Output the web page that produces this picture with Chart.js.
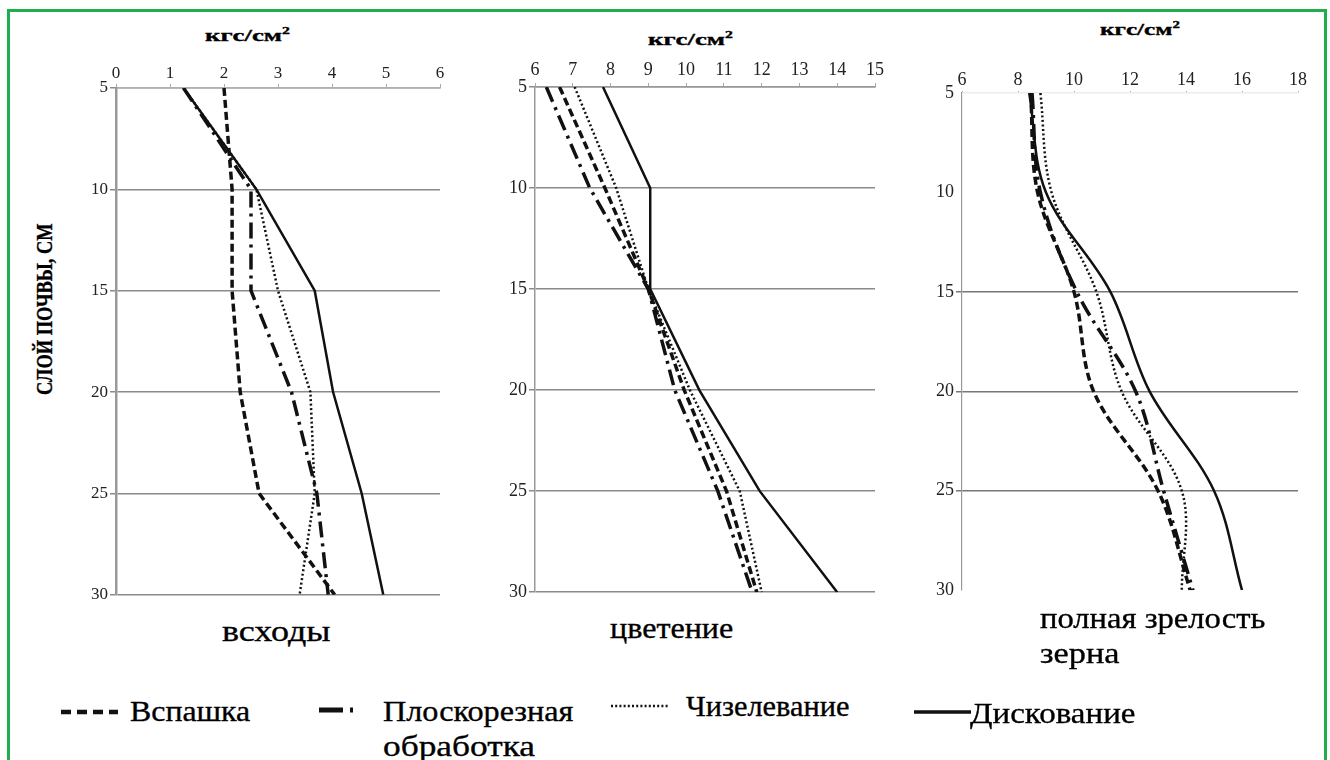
<!DOCTYPE html>
<html>
<head>
<meta charset="utf-8">
<script src="https://cdn.jsdelivr.net/npm/chart.js@4.4.1/dist/chart.umd.min.js"></script>
<style>
  body { margin: 0; width: 1330px; height: 760px; overflow: hidden; position: relative; background: #fff;
         font-family: "Liberation Serif", "DejaVu Serif", serif; color: #000; }
  .frame { position: absolute; left: 7px; top: 9px; width: 1314px; height: 780px; border: 3px solid #20ad4c; }
  canvas { position: absolute; }
  .txt { position: absolute; white-space: nowrap; line-height: 1; transform-origin: 0 0; -webkit-text-stroke: 0.35px #000; }
</style>
</head>
<body>
<div class="frame"></div>

<canvas id="c1" width="368" height="549" style="left:86px;top:58px"></canvas>
<canvas id="c2" width="384" height="548" style="left:505px;top:57px"></canvas>
<canvas id="c3" width="380" height="540" style="left:932px;top:63px"></canvas>

<!-- axis titles -->
<div class="txt" data-w="85" style="left:205px;top:26px;font-size:17px;font-weight:bold">кгс/см<sup style="font-size:10px">2</sup></div>
<div class="txt" data-w="85" style="left:648px;top:30px;font-size:17px;font-weight:bold">кгс/см<sup style="font-size:10px">2</sup></div>
<div class="txt" data-w="80" style="left:1100px;top:20px;font-size:17px;font-weight:bold">кгс/см<sup style="font-size:10px">2</sup></div>
<div class="txt" id="ytitle" data-w="172" style="left:33px;top:395px;font-size:23px;font-weight:bold">СЛОЙ ПОЧВЫ, СМ</div>

<!-- chart names -->
<div class="txt" data-w="108" style="left:222px;top:616px;font-size:30px">всходы</div>
<div class="txt" data-w="123" style="left:610px;top:613px;font-size:30px">цветение</div>
<div class="txt" data-w="225" style="left:1040px;top:603px;font-size:30px">полная зрелость</div>
<div class="txt" data-w="80" style="left:1040px;top:638px;font-size:30px">зерна</div>

<!-- legend -->
<canvas id="lg0" width="64" height="20" style="left:58px;top:702px"></canvas>
<canvas id="lg1" width="64" height="20" style="left:316px;top:700px"></canvas>
<canvas id="lg2" width="64" height="20" style="left:608px;top:696px"></canvas>
<canvas id="lg3" width="64" height="20" style="left:911px;top:702px"></canvas>
<div class="txt" data-w="120" style="left:130px;top:696px;font-size:30px">Вспашка</div>
<div class="txt" data-w="190" style="left:383px;top:696px;font-size:30px">Плоскорезная</div>
<div class="txt" data-w="152" style="left:383px;top:731px;font-size:30px">обработка</div>
<div class="txt" data-w="164" style="left:686px;top:691px;font-size:30px">Чизелевание</div>
<div class="txt" data-w="165" style="left:970px;top:698px;font-size:30px">Дискование</div>

<script>
// soil layer depth, cm
const depths = [5, 10, 15, 20, 25, 30];
const seriesNames = ['Вспашка', 'Плоскорезная обработка', 'Чизелевание', 'Дискование'];

// всходы, кгс/см2
const sprouts = {
    vspashka:  [2.0, 2.15, 2.15, 2.3, 2.65, 4.05],
    ploskorez: [1.25, 2.5, 2.5, 3.25, 3.72, 3.93],
    chizel:    [1.25, 2.6, 3.0, 3.6, 3.68, 3.4],
    disk:      [1.25, 2.6, 3.68, 4.02, 4.55, 4.95]
};
// цветение
const flowering = {
    vspashka:  [6.65, 7.85, 9.0, 9.95, 11.07, 11.87],
    ploskorez: [6.3, 7.45, 9.0, 9.7, 10.84, 11.75],
    chizel:    [7.05, 8.15, 9.0, 10.1, 11.42, 12.0],
    disk:      [7.8, 9.05, 9.05, 10.35, 11.95, 14.0]
};
// полная зрелость зерна
const ripeness = {
    vspashka:  [8.45, 8.7, 10.0, 10.7, 13.0, 14.15],
    ploskorez: [8.5, 8.8, 10.1, 12.2, 13.2, 14.25],
    chizel:    [8.8, 9.2, 10.8, 11.7, 13.85, 13.85],
    disk:      [8.4, 9.0, 11.3, 12.7, 15.0, 16.0]
};

const lineStyles = [
    { borderDash: [8, 4], borderWidth: 3.5 },
    { borderDash: [16, 6, 3, 6], borderWidth: 3.5 },
    { borderDash: [2, 2.5], borderWidth: 2.5 },
    { borderDash: [], borderWidth: 2.5 }
];
// the legend keys are drawn a bit coarser than the lines
const legendStyles = [
    { dash: [10, 6], width: 4.5 },
    { dash: [24, 7, 3, 30], width: 5 },
    { dash: [2, 2.2], width: 2.5 },
    { dash: [], width: 3.5 }
];

const serif = '"Liberation Serif", "DejaVu Serif", serif';

function buildDatasets(group, tension) {
    var keys = ['vspashka', 'ploskorez', 'chizel', 'disk'];
    return keys.map(function(k, i) {
        return {
            label: seriesNames[i],
            data: depths.map((d, j) => ({ x: group[k][j], y: d })),
            borderColor: '#111',
            borderWidth: lineStyles[i].borderWidth,
            borderDash: lineStyles[i].borderDash,
            pointRadius: 0,
            tension: tension,
            fill: false
        };
    });
}

function createChart(id, group, xMin, xMax, xStep, opts) {
    var ctx = document.getElementById(id).getContext('2d');
    const config = {
        type: 'line',
        data: { datasets: buildDatasets(group, opts.tension) },
        options: {
            indexAxis: 'y',
            responsive: false,
            animation: false,
            layout: { padding: { right: 14, bottom: 10 } },
            scales: {
                x: {
                    type: 'linear',
                    position: 'top',
                    min: xMin,
                    max: xMax,
                    ticks: { stepSize: xStep, color: '#222', padding: opts.xPad, font: { family: serif, size: opts.fontSize } },
                    grid: { drawOnChartArea: false, tickLength: opts.xTick, color: '#aaa' },
                    border: { color: opts.xBorder, width: 1.5 },
                    afterFit: function(s) { s.height = 30; }
                },
                y: {
                    type: 'linear',
                    reverse: true,
                    min: 5,
                    max: 30,
                    ticks: { stepSize: 5, color: '#222', padding: 2, font: { family: serif, size: opts.fontSize } },
                    grid: { color: opts.gridColor, lineWidth: 1.5, tickLength: 6 },
                    border: { color: '#999', width: opts.yBorderWidth },
                    afterFit: function(s) { s.width = 30; }
                }
            },
            plugins: {
                legend: { display: false },
                tooltip: { enabled: false }
            }
        }
    };
    return new Chart(ctx, config);
}

createChart('c1', sprouts, 0, 6, 1, {
    tension: 0, fontSize: 17, xPad: 0, xTick: 4, xBorder: '#b0b0b0', yBorderWidth: 2.5, gridColor: '#8a8a8a'
});
createChart('c2', flowering, 6, 15, 1, {
    tension: 0, fontSize: 18, xPad: 2, xTick: 4, xBorder: '#999', yBorderWidth: 1.5, gridColor: '#8a8a8a'
});
createChart('c3', ripeness, 6, 18, 2, {
    tension: 0.35, fontSize: 18, xPad: 0, xTick: 2, xBorder: '#ececec', yBorderWidth: 1.2,
    // only the inner lines are visible on the third panel
    gridColor: function(c) {
        var v = c.tick ? c.tick.value : null;
        return (v === 15 || v === 20 || v === 25) ? '#777' : 'rgba(0,0,0,0)';
    }
});

// legend samples
legendStyles.forEach(function(st, i) {
    var g = document.getElementById('lg' + i).getContext('2d');
    g.strokeStyle = '#111';
    g.lineWidth = st.width;
    g.setLineDash(st.dash);
    g.beginPath();
    g.moveTo(3, 10);
    g.lineTo(60, 10);
    g.stroke();
});

// squeeze text to the widths of the scan
document.querySelectorAll('.txt[data-w]').forEach(function(el) {
    var k = parseFloat(el.dataset.w) / el.offsetWidth;
    if (el.id === 'ytitle') {
        el.style.transform = 'rotate(-90deg) scaleX(' + k.toFixed(3) + ')';
    } else {
        el.style.transform = 'scaleX(' + k.toFixed(3) + ')';
    }
});
</script>
</body>
</html>
